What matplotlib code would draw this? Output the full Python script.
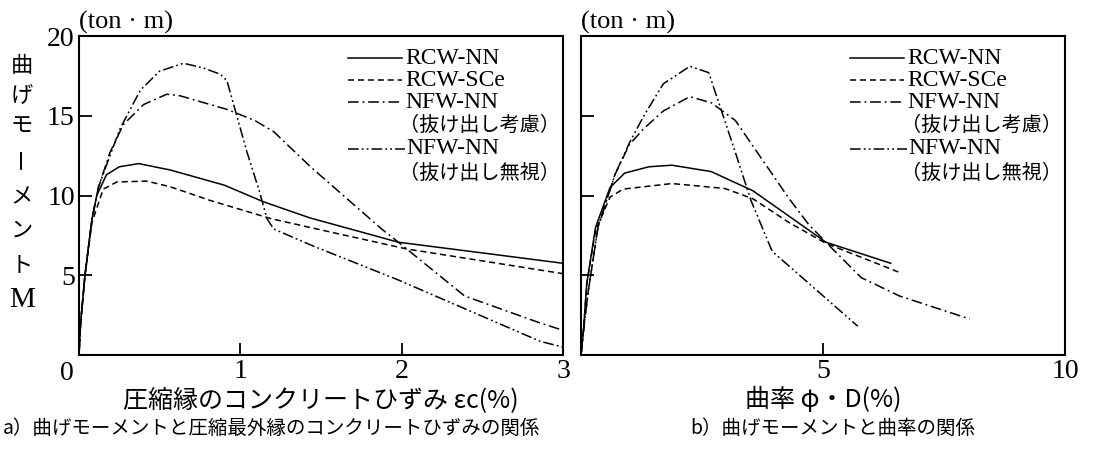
import matplotlib
matplotlib.use("Agg")
import matplotlib.pyplot as plt
from matplotlib.lines import Line2D

plt.rcParams['font.family'] = ['Noto Sans CJK JP', 'DejaVu Sans']
SERIF = ['Liberation Serif', 'DejaVu Serif']

# ------------------
# Data: a) moment vs concrete strain at compression edge
# ------------------
rcw_nn_e_x = [0, 0.01, 0.037, 0.08, 0.11, 0.17, 0.25, 0.37, 0.565, 0.90, 1.145, 1.43, 1.98, 2.5, 3.0]
rcw_nn_e_y = [0, 2.0, 5.0, 8.5, 10.0, 11.3, 11.8, 12.0, 11.6, 10.65, 9.6, 8.6, 7.07, 6.4, 5.75]

rcw_sce_e_x = [0, 0.01, 0.037, 0.08, 0.15, 0.235, 0.42, 0.565, 0.81, 1.19, 1.43, 2.03, 2.5, 3.0]
rcw_sce_e_y = [0, 2.0, 5.0, 8.3, 10.4, 10.85, 10.9, 10.55, 9.7, 8.55, 8.0, 6.65, 5.9, 5.1]

nfw_po_e_x = [0, 0.01, 0.037, 0.08, 0.12, 0.192, 0.275, 0.40, 0.544, 0.627, 0.917, 1.09,
              1.207, 1.435, 1.876, 1.98, 2.39, 2.86, 3.0]
nfw_po_e_y = [0, 2.0, 5.0, 8.5, 10.5, 12.7, 14.45, 15.7, 16.35, 16.25, 15.4, 14.7,
              14.0, 11.8, 7.9, 7.07, 3.7, 2.0, 1.55]

nfw_ig_e_x = [0, 0.01, 0.037, 0.08, 0.12, 0.17, 0.255, 0.38, 0.50, 0.648, 0.77, 0.876,
              0.917, 1.04, 1.12, 1.165, 1.207, 1.435, 1.98, 2.86, 3.0]
nfw_ig_e_y = [0, 2.0, 5.0, 8.5, 10.5, 11.9, 14.2, 16.6, 17.8, 18.29, 18.0, 17.6,
              17.2, 12.76, 10.2, 8.55, 7.9, 6.9, 4.7, 0.85, 0.5]

# ------------------
# Data: b) moment vs curvature
# ------------------
rcw_nn_c_x = [0, 0.05, 0.12, 0.3, 0.6, 0.9, 1.4, 1.88, 2.69, 3.19, 3.55, 4.3, 5.06, 6.4]
rcw_nn_c_y = [0, 1.5, 4.5, 8.0, 10.5, 11.4, 11.8, 11.9, 11.5, 10.8, 10.3, 8.7, 7.07, 5.75]

rcw_sce_c_x = [0, 0.05, 0.12, 0.3, 0.6, 0.87, 1.88, 2.97, 3.55, 4.3, 5.06, 6.62]
rcw_sce_c_y = [0, 1.5, 4.5, 7.8, 9.9, 10.4, 10.75, 10.44, 9.8, 8.3, 7.0, 5.13]

nfw_po_c_x = [0, 0.05, 0.15, 0.35, 0.7, 1.0, 1.3, 1.7, 2.25, 2.7, 3.19, 4.3, 4.7, 5.06, 5.79, 6.58, 8.03]
nfw_po_c_y = [0, 1.5, 4.0, 8.0, 11.3, 13.2, 14.2, 15.3, 16.2, 15.8, 14.7, 9.8, 8.2, 7.07, 4.85, 3.7, 2.26]

nfw_ig_c_x = [0, 0.05, 0.15, 0.35, 0.7, 1.0, 1.3, 1.7, 2.25, 2.64, 3.2, 3.51, 3.95, 5.72]
nfw_ig_c_y = [0, 1.5, 4.0, 8.0, 11.3, 13.3, 15.0, 17.0, 18.1, 17.7, 12.6, 9.7, 6.5, 1.8]

legend_names = ["RCW-NN", "RCW-SCe", "NFW-NN", "NFW-NN"]
legend_notes = ["（抜け出し考慮）", "（抜け出し無視）"]

# line styles
STY_NN = dict(ls="-")
STY_SCE = dict(ls=(0, (4, 2.5)))
STY_PO = dict(ls=(0, (7, 2.5, 1.2, 2.5)))
STY_IG = dict(ls=(0, (7, 2, 1.2, 2, 1.2, 2)))
LW = 1.1

fig = plt.figure(figsize=(10.98, 4.53), dpi=100)
ax1 = fig.add_axes([79 / 1098, 1 - 355 / 453, 484 / 1098, 319 / 453])
ax2 = fig.add_axes([581 / 1098, 1 - 355 / 453, 484 / 1098, 319 / 453])

ax1.plot(rcw_nn_e_x, rcw_nn_e_y, color="k", lw=LW, **STY_NN)
ax1.plot(rcw_sce_e_x, rcw_sce_e_y, color="k", lw=LW, **STY_SCE)
ax1.plot(nfw_po_e_x, nfw_po_e_y, color="k", lw=LW, **STY_PO)
ax1.plot(nfw_ig_e_x, nfw_ig_e_y, color="k", lw=LW, **STY_IG)

ax2.plot(rcw_nn_c_x, rcw_nn_c_y, color="k", lw=LW, **STY_NN)
ax2.plot(rcw_sce_c_x, rcw_sce_c_y, color="k", lw=LW, **STY_SCE)
ax2.plot(nfw_po_c_x, nfw_po_c_y, color="k", lw=LW, **STY_PO)
ax2.plot(nfw_ig_c_x, nfw_ig_c_y, color="k", lw=LW, **STY_IG)

for ax in (ax1, ax2):
    ax.set_ylim(0, 20)
    for s in ax.spines.values():
        s.set_linewidth(1.5)
    ax.tick_params(direction="in", length=9, width=1.3, pad=3)
    ax.set_yticks([5, 10, 15])

ax1.set_xlim(0, 3)
ax1.set_xticks([1, 2, 3])
ax1.set_xticklabels(["1", "2", "3"], family=SERIF, fontsize=20)
ax1.set_yticks([5, 10, 15, 20])
ax1.set_yticklabels(["5", "10", "15", "20"], family=SERIF, fontsize=20)
ax1.text(-0.025, -0.02, "0", transform=ax1.transAxes, ha="center", va="top",
         family=SERIF, fontsize=20)

ax2.set_xlim(0, 10)
ax2.set_xticks([5, 10])
ax2.set_xticklabels(["5", "10"], family=SERIF, fontsize=20)
ax2.set_yticklabels([])
ax2.tick_params(axis="y", length=9)

# unit labels
for ax in (ax1, ax2):
    ax.text(0.0, 1.005, "(ton · m)", transform=ax.transAxes, ha="left", va="bottom",
            family=SERIF, fontsize=19)

# legends drawn by hand
rows = [0.93, 0.862, 0.793, 0.721, 0.646, 0.568]
styles = [STY_NN, STY_SCE, STY_PO, STY_IG]
for ax in (ax1, ax2):
    for i, (name, st) in enumerate(zip(legend_names, styles)):
        r = rows[[0, 1, 2, 4][i]]
        x1 = 0.674 if i == 3 else 0.667
        ax.add_line(Line2D([0.556, x1], [r, r], transform=ax.transAxes, color="k", lw=LW, **st))
        ax.text(0.674 if i != 3 else 0.676, r, name, transform=ax.transAxes, ha="left", va="center",
                family=SERIF, fontsize=17)
    for j, note in enumerate(legend_notes):
        ax.text(0.662, rows[3 + 2 * j], note, transform=ax.transAxes, ha="left", va="center",
                fontsize=14.5)

# axis labels
ax1.text(0.5, -0.14, "圧縮縁のコンクリートひずみ εc(%)", transform=ax1.transAxes,
         ha="center", va="center", fontsize=18)
ax2.text(0.5, -0.14, "曲率 φ・D(%)", transform=ax2.transAxes,
         ha="center", va="center", fontsize=18)

ylab = ["曲", "げ", "モ", "ー", "メ", "ン", "ト"]
ylab_y = [65, 95, 125, 158, 197, 230, 265]
for ch, yy in zip(ylab, ylab_y):
    fig.text(22 / 1098, 1 - yy / 453, ch, ha="center", va="center", fontsize=16,
             rotation=90 if ch == "ー" else 0)
fig.text(22 / 1098, 1 - 300 / 453, "M", ha="center", va="center", family=SERIF, fontsize=21)

# captions
fig.text(3 / 1098, 1 - 428 / 453, "a）曲げモーメントと圧縮最外縁のコンクリートひずみの関係",
         ha="left", va="center", fontsize=14)
fig.text(690 / 1098, 1 - 428 / 453, "b）曲げモーメントと曲率の関係",
         ha="left", va="center", fontsize=14)

fig.savefig("out.png", dpi=100)
